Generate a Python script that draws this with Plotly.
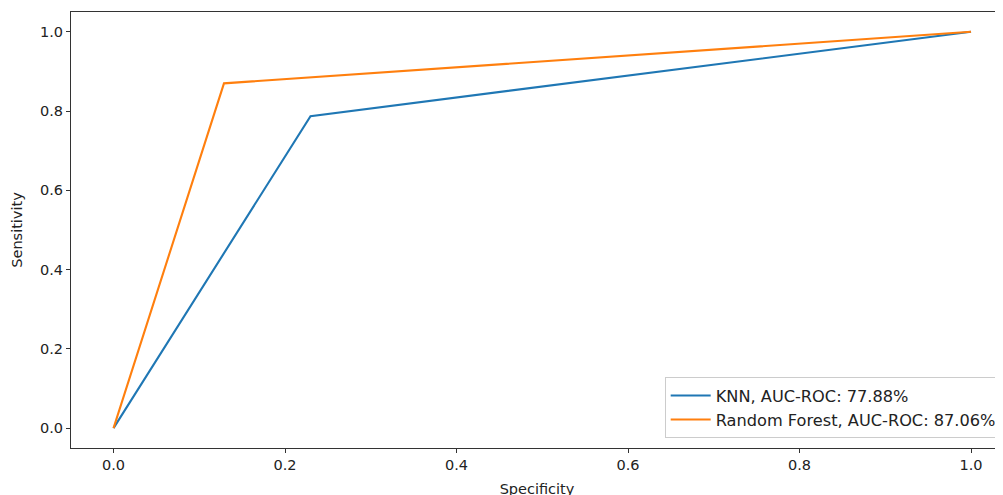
import plotly.graph_objects as go

knn_fpr = [0.0, 0.2297, 1.0]
knn_tpr = [0.0, 0.7873, 1.0]
rf_fpr = [0.0, 0.1288, 1.0]
rf_tpr = [0.0, 0.8700, 1.0]
knn_label = "KNN, AUC-ROC: 77.88%"
rf_label = "Random Forest, AUC-ROC: 87.06%"
x_ticks = [0.0, 0.2, 0.4, 0.6, 0.8, 1.0]
y_ticks = [0.0, 0.2, 0.4, 0.6, 0.8, 1.0]

FONT = "DejaVu Sans"
TXT = "#222222"
fig = go.Figure()
fig.add_trace(go.Scatter(x=knn_fpr, y=knn_tpr, mode="lines", name=knn_label,
                         line=dict(color="#1f77b4", width=2.1)))
fig.add_trace(go.Scatter(x=rf_fpr, y=rf_tpr, mode="lines", name=rf_label,
                         line=dict(color="#ff7f0e", width=2.1)))

axis_common = dict(showgrid=False, zeroline=False, showline=True, linecolor="#333333",
                   linewidth=1.1, ticks="outside", ticklen=4, tickwidth=1.1, tickcolor="#333333",
                   tickfont=dict(family=FONT, size=14.5, color=TXT))
fig.update_xaxes(range=[-0.0496, 1.0373], tickvals=x_ticks,
                 ticktext=[f"{v:.1f}" for v in x_ticks], mirror=True,
                 title=dict(text="Specificity", font=dict(family=FONT, size=14.5, color=TXT),
                            standoff=11), **axis_common)
fig.update_yaxes(range=[-0.05, 1.05], tickvals=y_ticks,
                 ticktext=[f"{v:.1f}" for v in y_ticks],
                 title=dict(text="Sensitivity", font=dict(family=FONT, size=14.5, color=TXT),
                            standoff=13), **axis_common)

# The page body adds an ~8px offset, so margins are compensated.
fig.update_layout(
    width=1003, height=495,
    margin=dict(l=63, r=8, t=4, b=55),
    plot_bgcolor="white", paper_bgcolor="white",
    font=dict(family=FONT, size=14.5, color=TXT),
    showlegend=True,
    legend=dict(x=0.637, y=0.022, xanchor="left", yanchor="bottom",
                bgcolor="rgba(255,255,255,0.85)", bordercolor="#cccccc", borderwidth=1,
                font=dict(family=FONT, size=16.2, color=TXT),
                tracegroupgap=0, itemwidth=40),
)

fig.write_html("out.html")
